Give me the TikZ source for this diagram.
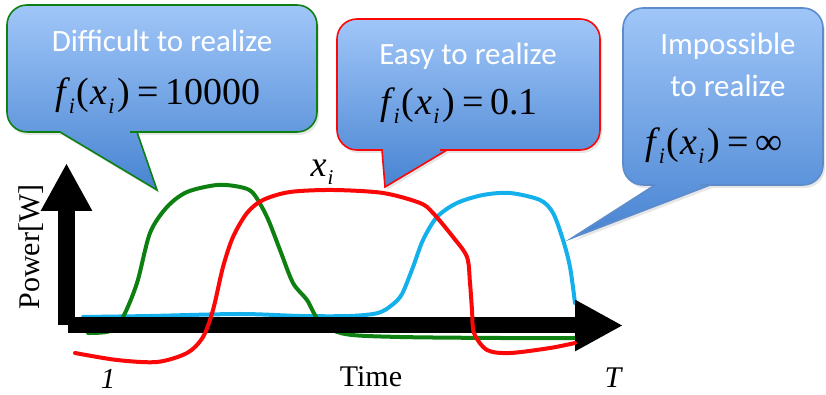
\documentclass[tikz,border=0pt]{standalone}
\usepackage{fontspec}
\setmainfont{Liberation Serif}
\newfontfamily\calfont{Carlito}
\usetikzlibrary{arrows.meta,shadows}

\definecolor{bubtop}{RGB}{160,198,248}
\definecolor{bubbot}{RGB}{72,132,210}
\definecolor{bubedge}{RGB}{92,140,204}
\definecolor{curvegreen}{RGB}{14,128,18}
\definecolor{curvered}{RGB}{250,8,8}
\definecolor{curveblue}{RGB}{20,176,236}

% subscript i and the left side f_i(x_i) =
\newcommand{\subi}{\raisebox{-9pt}{\fontsize{22}{22}\selectfont\itshape i}}
\newcommand{\fxi}{{\itshape f}\kern3pt\subi\kern2pt(\kern1pt{\itshape x}\kern1pt\subi\kern3pt)\kern7pt=\kern7pt}

\begin{document}
\begin{tikzpicture}[
    x=1pt, y=1pt,
    bubble/.style={draw=#1, line width=1.6pt, top color=bubtop, bottom color=bubbot,
        drop shadow={opacity=0.2, shadow xshift=2pt, shadow yshift=-3pt}},
    bubtext/.style={text=white, font=\calfont\fontsize{31}{31}\selectfont, inner sep=0pt, anchor=base},
    formula/.style={font=\fontsize{38}{38}\selectfont, inner sep=0pt, anchor=base},
    axlabel/.style={font=\fontsize{30}{30}\selectfont, inner sep=0pt},
    curve/.style={line width=4pt, line cap=round, line join=round},
    axis/.style={line width=16pt, -{Triangle[length=48pt,width=48pt]}}
]
    \useasboundingbox (0,0) rectangle (826,395);

    % callouts
    \path[bubble=curvegreen] (7,320) [rounded corners=20] -- (7,390) -- (317,390) -- (317,263)
        -- (150,263) [sharp corners] -- (137,263) -- (157,205) -- (60,263)
        -- (40,263) [rounded corners=20] -- (7,263) -- cycle;
    \path[bubble=curvered] (337,300) [rounded corners=20] -- (337,376) -- (600,376) -- (600,245)
        -- (460,245) [sharp corners] -- (447,245) -- (385,208) -- (382,245)
        -- (365,245) [rounded corners=20] -- (337,245) -- cycle;
    \path[bubble=bubedge] (623,300) [rounded corners=20] -- (623,387) -- (823,387) -- (823,210)
        -- (720,210) [sharp corners] -- (710,210) -- (572,157) -- (655,210)
        -- (645,210) [rounded corners=20] -- (623,210) -- cycle;

    \node[bubtext] (difftxt) at (162,343) {Difficult to realize};
    \node[formula] (diffval) at (158,290) {\fxi 10000};
    \node[bubtext] (easytxt) at (468,330) {Easy to realize};
    \node[formula] (easyval) at (459,280) {\fxi 0.1};
    \node[bubtext] (imptxt) at (728,340) {Impossible};
    \node[bubtext] (imptxtb) at (728,298) {to realize};
    \node[formula] (impval) at (714,240) {\fxi ∞};

    % curves behind the axes
    \draw[curve, curveblue] plot[smooth] coordinates {(83,78) (150,79) (240,81) (300,79) (350,79)
        (378,82) (392,90) (402,101) (413,128) (423,155) (437,178) (457,192) (483,200) (510,202)
        (540,195) (553,182) (563,155) (570,128) (575,92)};
    \draw[curve, curvegreen] plot[smooth] coordinates {(88,62) (110,64) (123,78) (137,112) (150,162)
        (167,188) (187,203) (217,210) (240,208) (253,202) (267,178) (280,145) (293,112) (307,95)
        (320,73) (345,61) (400,58) (500,57) (575,57)};

    % axes
    \coordinate (org) at (66.5,70);
    \coordinate (ytip) at (66.5,232);
    \coordinate (xorg) at (68,69.5);
    \coordinate (xtip) at (623,69.5);
    \draw[axis, line width=17pt] (org) -- (ytip);
    \draw[axis] (xorg) -- (xtip);

    % curve in front of the axes
    \draw[curve, curvered] plot[smooth] coordinates {(75,42) (117,35) (157,33) (187,42) (203,58)
        (213,85) (223,128) (233,158) (247,182) (263,195) (290,203) (333,205) (383,202) (420,192)
        (433,182) (453,158) (467,138) (470,112) (472,85) (474,62) (487,45) (510,42) (550,47) (575,52)};

    \node[axlabel, rotate=90] (powlab) at (31,148) {Power[W]};
    \node[axlabel, anchor=base] (timelab) at (371,8) {Time};
    \node[axlabel, anchor=base, font=\fontsize{29}{29}\selectfont\itshape] (startlab) at (108,6) {1};
    \node[axlabel, anchor=base, font=\fontsize{30}{30}\selectfont\itshape] (endlab) at (613,7) {T};
    \node[axlabel, anchor=base] (xlab) at (322,218) {\fontsize{36}{36}\selectfont\textit{x}\kern1pt\raisebox{-8pt}{\fontsize{21}{21}\selectfont\itshape i}};
\end{tikzpicture}
\end{document}
